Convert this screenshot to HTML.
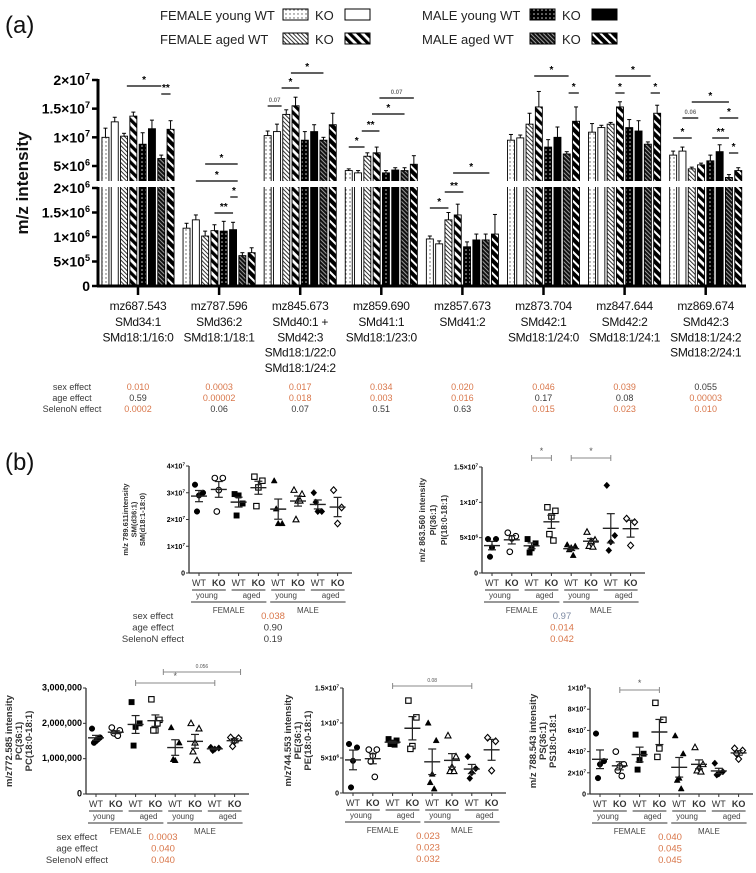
<!DOCTYPE html>
<html><head><meta charset="utf-8"><style>
html,body{margin:0;padding:0;background:#fff;}
svg{display:block;font-family:"Liberation Sans",sans-serif;}
</style></head><body>
<svg id="fig" width="756" height="873" viewBox="0 0 756 873" xmlns="http://www.w3.org/2000/svg">
<defs>
<pattern id="p0" width="4" height="4" patternUnits="userSpaceOnUse"><rect width="4" height="4" fill="#fff"/><circle cx="2" cy="2" r="0.7" fill="#555"/></pattern>
<pattern id="p2" width="3" height="3" patternUnits="userSpaceOnUse" patternTransform="rotate(-45)"><rect width="3" height="3" fill="#fff"/><rect width="1" height="3" fill="#333"/></pattern>
<pattern id="p3" width="6" height="6" patternUnits="userSpaceOnUse" patternTransform="rotate(-45)"><rect width="6" height="6" fill="#fff"/><rect width="3.2" height="6" fill="#000"/></pattern>
<pattern id="p4" width="4" height="4" patternUnits="userSpaceOnUse"><rect width="4" height="4" fill="#000"/><circle cx="2" cy="2" r="0.8" fill="#ccc"/></pattern>
<pattern id="p6" width="3" height="3" patternUnits="userSpaceOnUse" patternTransform="rotate(-45)"><rect width="3" height="3" fill="#111"/><rect width="0.9" height="3" fill="#aaa"/></pattern>
<pattern id="p7" width="6" height="6" patternUnits="userSpaceOnUse" patternTransform="rotate(-45)"><rect width="6" height="6" fill="#fff"/><rect width="4" height="6" fill="#000"/></pattern>
</defs>
<g id="panelA"></g>
<g id="panelB"></g>
</svg>
<script>
// ---------- Panel (a) data ----------
const categories = ["mz687.543","mz787.596","mz845.673","mz859.690","mz857.673","mz873.704","mz847.644","mz869.674"];
const catSub = [["SMd34:1","SMd18:1/16:0"],["SMd36:2","SMd18:1/18:1"],["SMd40:1 +","SMd42:3","SMd18:1/22:0","SMd18:1/24:2"],["SMd41:1","SMd18:1/23:0"],["SMd41:2"],["SMd42:1","SMd18:1/24:0"],["SMd42:2","SMd18:1/24:1"],["SMd42:3","SMd18:1/24:2","SMd18:2/24:1"]];
const seriesNames = ["FEMALE young WT","FEMALE young KO","FEMALE aged WT","FEMALE aged KO","MALE young WT","MALE young KO","MALE aged WT","MALE aged KO"];
// values in units of 1e6
const barValues = [
 [10.0,12.7,10.2,13.7,8.8,11.5,6.3,11.4],
 [1.18,1.35,1.02,1.13,1.12,1.15,0.62,0.68],
 [10.3,11.0,14.0,15.5,9.5,11.0,9.5,12.2],
 [4.2,3.8,6.7,7.3,3.8,4.3,4.2,5.3],
 [0.96,0.86,1.35,1.45,0.80,0.94,0.94,1.06],
 [9.5,9.9,12.3,15.3,8.3,10.0,7.1,12.8],
 [10.9,11.7,12.3,15.3,11.7,11.1,8.8,14.2],
 [6.9,7.6,4.5,5.2,5.9,7.5,3.0,4.2]
];
const barErrors = [
 [1.6,0.8,0.5,0.7,2.0,1.5,0.6,1.5],
 [0.10,0.10,0.10,0.12,0.20,0.15,0.06,0.10],
 [0.8,1.3,0.8,1.5,1.5,1.2,0.5,2.0],
 [0.3,0.4,0.6,1.0,0.4,0.4,0.5,1.5],
 [0.06,0.06,0.15,0.22,0.10,0.12,0.12,0.40],
 [1.0,0.5,1.9,2.7,1.3,1.8,0.4,2.5],
 [1.5,0.4,0.3,0.9,1.4,1.8,0.4,1.4],
 [0.7,0.7,0.3,0.3,1.0,1.2,0.5,0.5]
];
const upperTicks = [5,10,15,20];
const upperTickLabels = [["5×10","6"],["1×10","7"],["1.5×10","7"],["2×10","7"]];
const lowerTicks = [0,0.5,1,1.5,2];
const lowerTickLabels = [["0",""],["5×10","5"],["1×10","6"],["1.5×10","6"],["2×10","6"]];
const sexEffect = ["0.010","0.0003","0.017","0.034","0.020","0.046","0.039","0.055"];
const ageEffect = ["0.59","0.00002","0.018","0.003","0.016","0.17","0.08","0.00003"];
const selenoEffect = ["0.0002","0.06","0.07","0.51","0.63","0.015","0.023","0.010"];
// significance: group, fromBar, toBar, levelY, label
const sigs = [
 [0,2.3,6,86,"*"],[0,6,7,94,"**"],
 [1,2,5.5,164,"*"],[1,1,5.5,181,"*"],[1,4.7,5.5,197,"*"],[1,3,5,213,"**"],
 [2,0,1.5,106,"0.07"],[2,1.5,3.4,88,"*"],[2,2.5,6,73,"*"],
 [3,0,1.7,147,"*"],[3,1.4,3.3,131,"**"],[3,2.5,6,114,"*"],[3,3.3,7,98,"0.07"],
 [4,0,2,208,"*"],[4,1.6,3.6,192,"**"],[4,2.5,6.4,173,"*"],
 [5,2.5,6.2,76,"*"],[5,6.2,7.3,93,"*"],
 [6,2.5,6.3,76,"*"],[6,2.5,3.5,93,"*"],[6,6.3,7.3,93,"*"],
 [7,2,6,102,"0*"],[7,1,2.7,118,"0.06"],[7,0,2,138,"*"],[7,4.2,6,138,"**"],[7,5,7,118,"*"],[7,6,7,153,"*"]
];
const fills = ["url(#p0)","#fff","url(#p2)","url(#p3)","url(#p4)","#000","url(#p6)","url(#p7)"];
const NS="http://www.w3.org/2000/svg";
const ORANGE="#d9774b", DARK="#3a3a3a";
function el(parent,tag,attrs,text){const e=document.createElementNS(NS,tag);for(const k in attrs)e.setAttribute(k,attrs[k]);if(text!==undefined)e.textContent=text;parent.appendChild(e);return e;}
function sup(parent,x,y,base,exp,size,anchor,weight){const t=el(parent,"text",{x:x,y:y,"font-size":size,"text-anchor":anchor||"end","font-weight":weight||"bold"});t.appendChild(document.createTextNode(base));if(exp){const s=document.createElementNS(NS,"tspan");s.setAttribute("dy",-size*0.4);s.setAttribute("font-size",size*0.65);s.textContent=exp;t.appendChild(s);}return t;}
function yUpper(v){return 166-(v-5)/5*28.67;}
function yLower(v){return 286-v*49;}
function yBar(v){return v>2?yUpper(v):yLower(v);}
function gx(g){return 138+g*81.1;}
function bx(g,j){return gx(g)+(j-3.5)*9.3;}
const A=document.getElementById("panelA");
let t=el(A,"text",{x:5,y:33,"font-size":24,fill:"#111"},"(a)");


const legend=el(A,"g",{});


const legRows=[[160,20,"FEMALE young WT",0,1,123],[160,44,"FEMALE aged  WT",2,3,123],[422,20,"MALE young WT",4,5,108],[422,44,"MALE aged  WT",6,7,108]];
legRows.forEach(r=>{
  const tx=el(legend,"text",{x:r[0],y:r[1],"font-size":13,fill:"#222","xml:space":"preserve"},r[2]);
  
  
  const w=r[5];
  el(legend,"rect",{x:r[0]+w,y:r[1]-11,width:25,height:11,fill:fills[r[3]],stroke:"#000","stroke-width":1});
  el(legend,"text",{x:r[0]+w+32,y:r[1],"font-size":13,fill:"#222"},"KO");
  el(legend,"rect",{x:r[0]+w+62,y:r[1]-11,width:25,height:11,fill:fills[r[4]],stroke:"#000","stroke-width":1});
});
t=el(A,"text",{x:0,y:0,transform:"translate(28,183) rotate(-90)","font-size":17,"font-weight":"bold","text-anchor":"middle",fill:"#111"},"m/z intensity");


const bars=el(A,"g",{});


barValues.forEach((row,g)=>{row.forEach((v,j)=>{
  const x=bx(g,j)-3.5, y=yBar(v);
  const r=el(bars,"rect",{x:x,y:y,width:7,height:286-y,fill:fills[j],stroke:"#000","stroke-width":0.9});
  
  
  const ye=yBar(v+barErrors[g][j]);
  el(bars,"line",{x1:bx(g,j),x2:bx(g,j),y1:y,y2:ye,stroke:"#000","stroke-width":1});
  el(bars,"line",{x1:bx(g,j)-2,x2:bx(g,j)+2,y1:ye,y2:ye,stroke:"#000","stroke-width":1});
});});
el(A,"rect",{x:90,y:181,width:660,height:6,fill:"#fff"});
const yax=el(A,"g",{});


el(yax,"line",{x1:98,x2:98,y1:79,y2:181,stroke:"#000","stroke-width":3});
el(yax,"line",{x1:98,x2:98,y1:187,y2:287,stroke:"#000","stroke-width":3});
upperTicks.forEach((v,i)=>{const y=yUpper(v);el(yax,"line",{x1:92,x2:98,y1:y,y2:y,stroke:"#000","stroke-width":2.5});sup(yax,90,y+5,upperTickLabels[i][0],upperTickLabels[i][1],14);});
lowerTicks.forEach((v,i)=>{const y=yLower(v);el(yax,"line",{x1:92,x2:98,y1:y,y2:y,stroke:"#000","stroke-width":2.5});sup(yax,90,y+5,lowerTickLabels[i][0],lowerTickLabels[i][1],14);});
const xax=el(A,"g",{});


el(xax,"line",{x1:97,x2:746,y1:286,y2:286,stroke:"#000","stroke-width":3});
categories.forEach((c,g)=>{
  el(xax,"line",{x1:gx(g),x2:gx(g),y1:286,y2:295,stroke:"#000","stroke-width":2.5});
  const lab=el(xax,"text",{x:gx(g),y:310,"font-size":12,"letter-spacing":"-0.3","text-anchor":"middle",fill:"#111"},c);
  
  
  catSub[g].forEach((s,k)=>el(xax,"text",{x:gx(g),y:326+k*15.3,"font-size":12,"letter-spacing":"-0.3","text-anchor":"middle",fill:"#111"},s));
});
const sg=el(A,"g",{});


sigs.forEach(s=>{const x1=bx(s[0],s[1]),x2=bx(s[0],s[2]);
  el(sg,"line",{x1:x1,x2:x2,y1:s[3],y2:s[3],stroke:"#000","stroke-width":1.2});
  const lab=s[4]==="0*"?"*":s[4];
  const small=lab.length>2;
  el(sg,"text",{x:(x1+x2)/2,y:s[3]-(small?4:3),"font-size":small?6:10,"font-weight":"bold","text-anchor":"middle",fill:small?"#777":"#000"},lab);
});
const eff=el(A,"g",{});


[["sex effect",sexEffect],["age effect",ageEffect],["SelenoN effect",selenoEffect]].forEach((r,i)=>{
  const y=390+i*11;
  el(eff,"text",{x:72,y:y,"font-size":9,"text-anchor":"middle",fill:DARK},r[0]);
  r[1].forEach((v,g)=>{const c=parseFloat(v)<0.05?ORANGE:DARK;el(eff,"text",{x:gx(g),y:y,"font-size":9,"text-anchor":"middle",fill:c},v);});
});

// ---------- Panel (b) data ----------
const groupLabels=["WT","KO","WT","KO","WT","KO","WT","KO"];
const smValues=[[3.3,3.0,2.9,2.3],[3.55,3.55,3.1,2.3],[2.95,2.6,2.9,2.15],[3.6,3.45,3.2,2.5],[3.45,1.85,1.85,2.4],[3.1,2.95,2.7,2.0,2.7],[3.0,2.3,2.3,2.65],[3.1,2.45,1.85]];
const piValues=[[4.8,4.8,3.6,2.3],[5.7,5.2,4.9,3.0],[4.8,4.2,3.5,2.9],[9.3,8.8,8.0,5.5,4.6],[4.0,3.8,3.6,3.3,2.5],[5.8,4.7,4.5,3.8,3.7],[12.4,5.3,4.4,3.2],[7.7,7.2,3.9]];
const pcValues=[[1.85,1.6,1.5,1.45,1.55],[1.88,1.8,1.7,1.72,1.65],[2.6,2.0,1.9,1.37],[2.68,2.1,1.8,1.8,2.0],[1.88,1.45,0.95,0.98],[2.0,1.85,1.45,1.2,0.95],[1.32,1.3,1.27,1.23],[1.6,1.58,1.5,1.35]];
const peValues=[[7.0,6.5,4.6,0.8],[6.2,6.2,5.3,4.5,2.3],[7.7,7.5,7.2,7.0,6.9],[13.2,10.8,6.7,6.3],[10.0,7.5,2.7,1.5,0.6],[8.2,5.2,3.7,3.1,3.1],[5.2,3.5,2.9,2.1],[7.9,7.4,3.2]];
const psValues=[[5.7,3.1,2.8,1.5],[4.0,2.8,2.6,2.2,1.7],[5.6,3.8,3.2,2.3],[8.6,7.0,4.3,3.5],[5.5,3.8,1.5,1.3,0.5],[4.4,2.8,2.5,2.2,2.1],[2.9,2.1,1.9,1.8],[4.3,4.1,3.3,3.8]];
const smTicks=[0,1,2,3,4], smTickLabels=[["0",""],["1×10","7"],["2×10","7"],["3×10","7"],["4×10","7"]];
const piTicks=[0,5,10,15], piTickLabels=[["0",""],["5×10","6"],["1×10","7"],["1.5×10","7"]];
const pcTicks=[0,1,2,3], pcTickLabels=[["0",""],["1,000,000",""],["2,000,000",""],["3,000,000",""]];
const peTicks=[0,5,10,15], peTickLabels=[["0",""],["5×10","6"],["1×10","7"],["1.5×10","7"]];
const psTicks=[0,2,4,6,8,10], psTickLabels=[["0",""],["2×10","7"],["4×10","7"],["6×10","7"],["8×10","7"],["1×10","8"]];
const smEffects=["0.038","0.90","0.19"], piEffects=["0.97","0.014","0.042"], pcEffects=["0.0003","0.040","0.040"], peEffects=["0.023","0.023","0.032"], psEffects=["0.040","0.045","0.045"];
const B=document.getElementById("panelB");
t=el(B,"text",{x:5,y:470,"font-size":24,fill:"#111"},"(b)");


const offs=[-4,4,0,-2,2,-5,5];
function marker(g,i,x,y){
  const filled=i%2===0, kind=Math.floor(i/2);
  const a={fill:filled?"#000":"#fff",stroke:"#000","stroke-width":filled?0.5:1.1};
  let m;
  if(kind===0) m=el(g,"circle",Object.assign({cx:x,cy:y,r:2.8},a));
  else if(kind===1) m=el(g,"rect",Object.assign({x:x-2.7,y:y-2.7,width:5.4,height:5.4},a));
  else if(kind===2) m=el(g,"polygon",Object.assign({points:`${x},${y-3.2} ${x+3},${y+2.3} ${x-3},${y+2.3}`},a));
  else m=el(g,"polygon",Object.assign({points:`${x},${y-3.3} ${x+3},${y} ${x},${y+3.3} ${x-3},${y}`},a));
  return m;
}
function scatter(c){
  const g=el(B,"g",{});
  
  
  const ys=v=>c.y0-v/c.max*(c.y0-c.yTop);
  const cx=i=>c.ax+10+i*19.8;
  const xEnd=c.ax+163;
  el(g,"line",{x1:c.ax,x2:c.ax,y1:c.yTop,y2:c.y0,stroke:"#333","stroke-width":1.3});
  el(g,"line",{x1:c.ax,x2:xEnd,y1:c.y0,y2:c.y0,stroke:"#333","stroke-width":1.3});
  c.ticks.forEach((v,i)=>{const y=ys(v);el(g,"line",{x1:c.ax-3,x2:c.ax,y1:y,y2:y,stroke:"#333","stroke-width":1});sup(g,c.ax-4,y+2.5,c.tickLabels[i][0],c.tickLabels[i][1],c.tickSize||7);});
  for(let i=0;i<8;i++){el(g,"line",{x1:cx(i),x2:cx(i),y1:c.y0,y2:c.y0+3,stroke:"#333","stroke-width":1});}
  c.data.forEach((pts,i)=>{
    const mean=pts.reduce((a,b)=>a+b,0)/pts.length;
    const sd=Math.sqrt(pts.reduce((a,b)=>a+(b-mean)*(b-mean),0)/(pts.length-1));
    const se=sd/Math.sqrt(pts.length);
    pts.forEach((v,k)=>{const m=marker(g,i,cx(i)+offs[k%offs.length],ys(v));
      
      });
    const ym=ys(mean);
    const ml=el(g,"line",{x1:cx(i)-8,x2:cx(i)+8,y1:ym,y2:ym,stroke:"#222","stroke-width":1.4});
    
    
    el(g,"line",{x1:cx(i),x2:cx(i),y1:ys(mean+se),y2:ys(mean-se),stroke:"#222","stroke-width":1.2});
    [mean+se,mean-se].forEach(v=>el(g,"line",{x1:cx(i)-4,x2:cx(i)+4,y1:ys(v),y2:ys(v),stroke:"#222","stroke-width":1.2}));
    el(g,"text",{x:cx(i),y:c.y0+13,"font-size":9,"font-weight":i%2?"bold":"normal","text-anchor":"middle",fill:"#333"},groupLabels[i]);
  });
  [["young",0],["aged",2],["young",4],["aged",6]].forEach(p=>{
    el(g,"line",{x1:cx(p[1])-7,x2:cx(p[1]+1)+7,y1:c.y0+17,y2:c.y0+17,stroke:"#777","stroke-width":1.4});
    el(g,"text",{x:(cx(p[1])+cx(p[1]+1))/2+(p[0]==="aged"?3:-2),y:c.y0+25,"font-size":8,"text-anchor":"middle",fill:"#444"},p[0]);
  });
  [["FEMALE",0],["MALE",4]].forEach(p=>{
    el(g,"line",{x1:cx(p[1])-8,x2:cx(p[1]+3)+8,y1:c.y0+29,y2:c.y0+29,stroke:"#777","stroke-width":1.4});
    el(g,"text",{x:(cx(p[1])+cx(p[1]+3))/2,y:c.y0+40,"font-size":8,"text-anchor":"middle",fill:"#444"},p[0]);
  });
  c.label.forEach((s,k)=>{
    const tl=el(g,"text",{x:0,y:0,transform:`translate(${c.labX+k*c.labDx},${(c.yTop+c.y0)/2}) rotate(-90)`,"font-size":c.labSize,"font-weight":"bold","text-anchor":"middle",fill:"#333"},s);
    
    
  });
  (c.sig||[]).forEach(s=>{
    const x1=cx(s[0]),x2=cx(s[1]),y=s[2];
    el(g,"line",{x1:x1,x2:x2,y1:y,y2:y,stroke:"#888","stroke-width":1});
    el(g,"line",{x1:x1,x2:x1,y1:y-3,y2:y+3,stroke:"#888","stroke-width":1});
    el(g,"line",{x1:x2,x2:x2,y1:y-3,y2:y+3,stroke:"#888","stroke-width":1});
    el(g,"text",{x:(x1+x2)/2,y:y-4,"font-size":s[3]==="*"?9:5,"text-anchor":"middle",fill:"#555"},s[3]);
  });
  const ey=c.y0+46;
  c.effects.forEach((v,k)=>{
    const col=c.effColors?c.effColors[k]:(parseFloat(v)<0.05?ORANGE:DARK);
    el(g,"text",{x:c.effX,y:ey+k*11.5,"font-size":9.5,"text-anchor":"middle",fill:col},v);
    if(c.effLabX) el(g,"text",{x:c.effLabX,y:ey+k*11.5,"font-size":9.5,"text-anchor":"middle",fill:DARK},["sex effect","age effect","SelenoN effect"][k]);
  });
}
scatter({name:"sm-plot",ax:189,y0:573,yTop:466,max:4,ticks:smTicks,tickLabels:smTickLabels,data:smValues,label:["m/z 789.611intensity","SM(d36:1)","SM(d18:1-18:0)"],labX:128,labDx:8.5,labSize:7.5,effects:smEffects,effX:273,effLabX:153});
scatter({name:"pi-plot",ax:482,y0:573,yTop:467,max:15,ticks:piTicks,tickLabels:piTickLabels,data:piValues,label:["m/z 863.560 intensity","PI(36:1)","PI(18:0-18:1)"],labX:425,labDx:11,labSize:8.5,effects:piEffects,effX:562,effColors:["#7d8aa3",ORANGE,ORANGE],sig:[[2,3,458,"*"],[4,6,458,"*"]]});
scatter({name:"pc-plot",ax:86,y0:794,yTop:688,max:3,ticks:pcTicks,tickLabels:pcTickLabels,tickSize:9,data:pcValues,label:["m/z772.585 intensity","PC(36:1)","PC(18:0-18:1)"],labX:12,labDx:10,labSize:9.5,effects:pcEffects,effX:163,effLabX:77,sig:[[2,6,683,"*"],[3.4,7.3,672,"0.056"]]});
scatter({name:"pe-plot",ax:343,y0:793,yTop:688,max:15,ticks:peTicks,tickLabels:peTickLabels,data:peValues,label:["m/z744.553 intensity","PE(36:1)","PE(18:0-18:1)"],labX:291,labDx:10,labSize:9.5,effects:peEffects,effX:428,sig:[[2,6,686,"0.08"]]});
scatter({name:"ps-plot",ax:590,y0:794,yTop:688,max:10,ticks:psTicks,tickLabels:psTickLabels,data:psValues,label:["m/z 788.543 intensity","PS(36:1)","PS18:0-18:1"],labX:536,labDx:10,labSize:9.5,effects:psEffects,effX:670,sig:[[1,3,690,"*"]]});
</script>
</body></html>
